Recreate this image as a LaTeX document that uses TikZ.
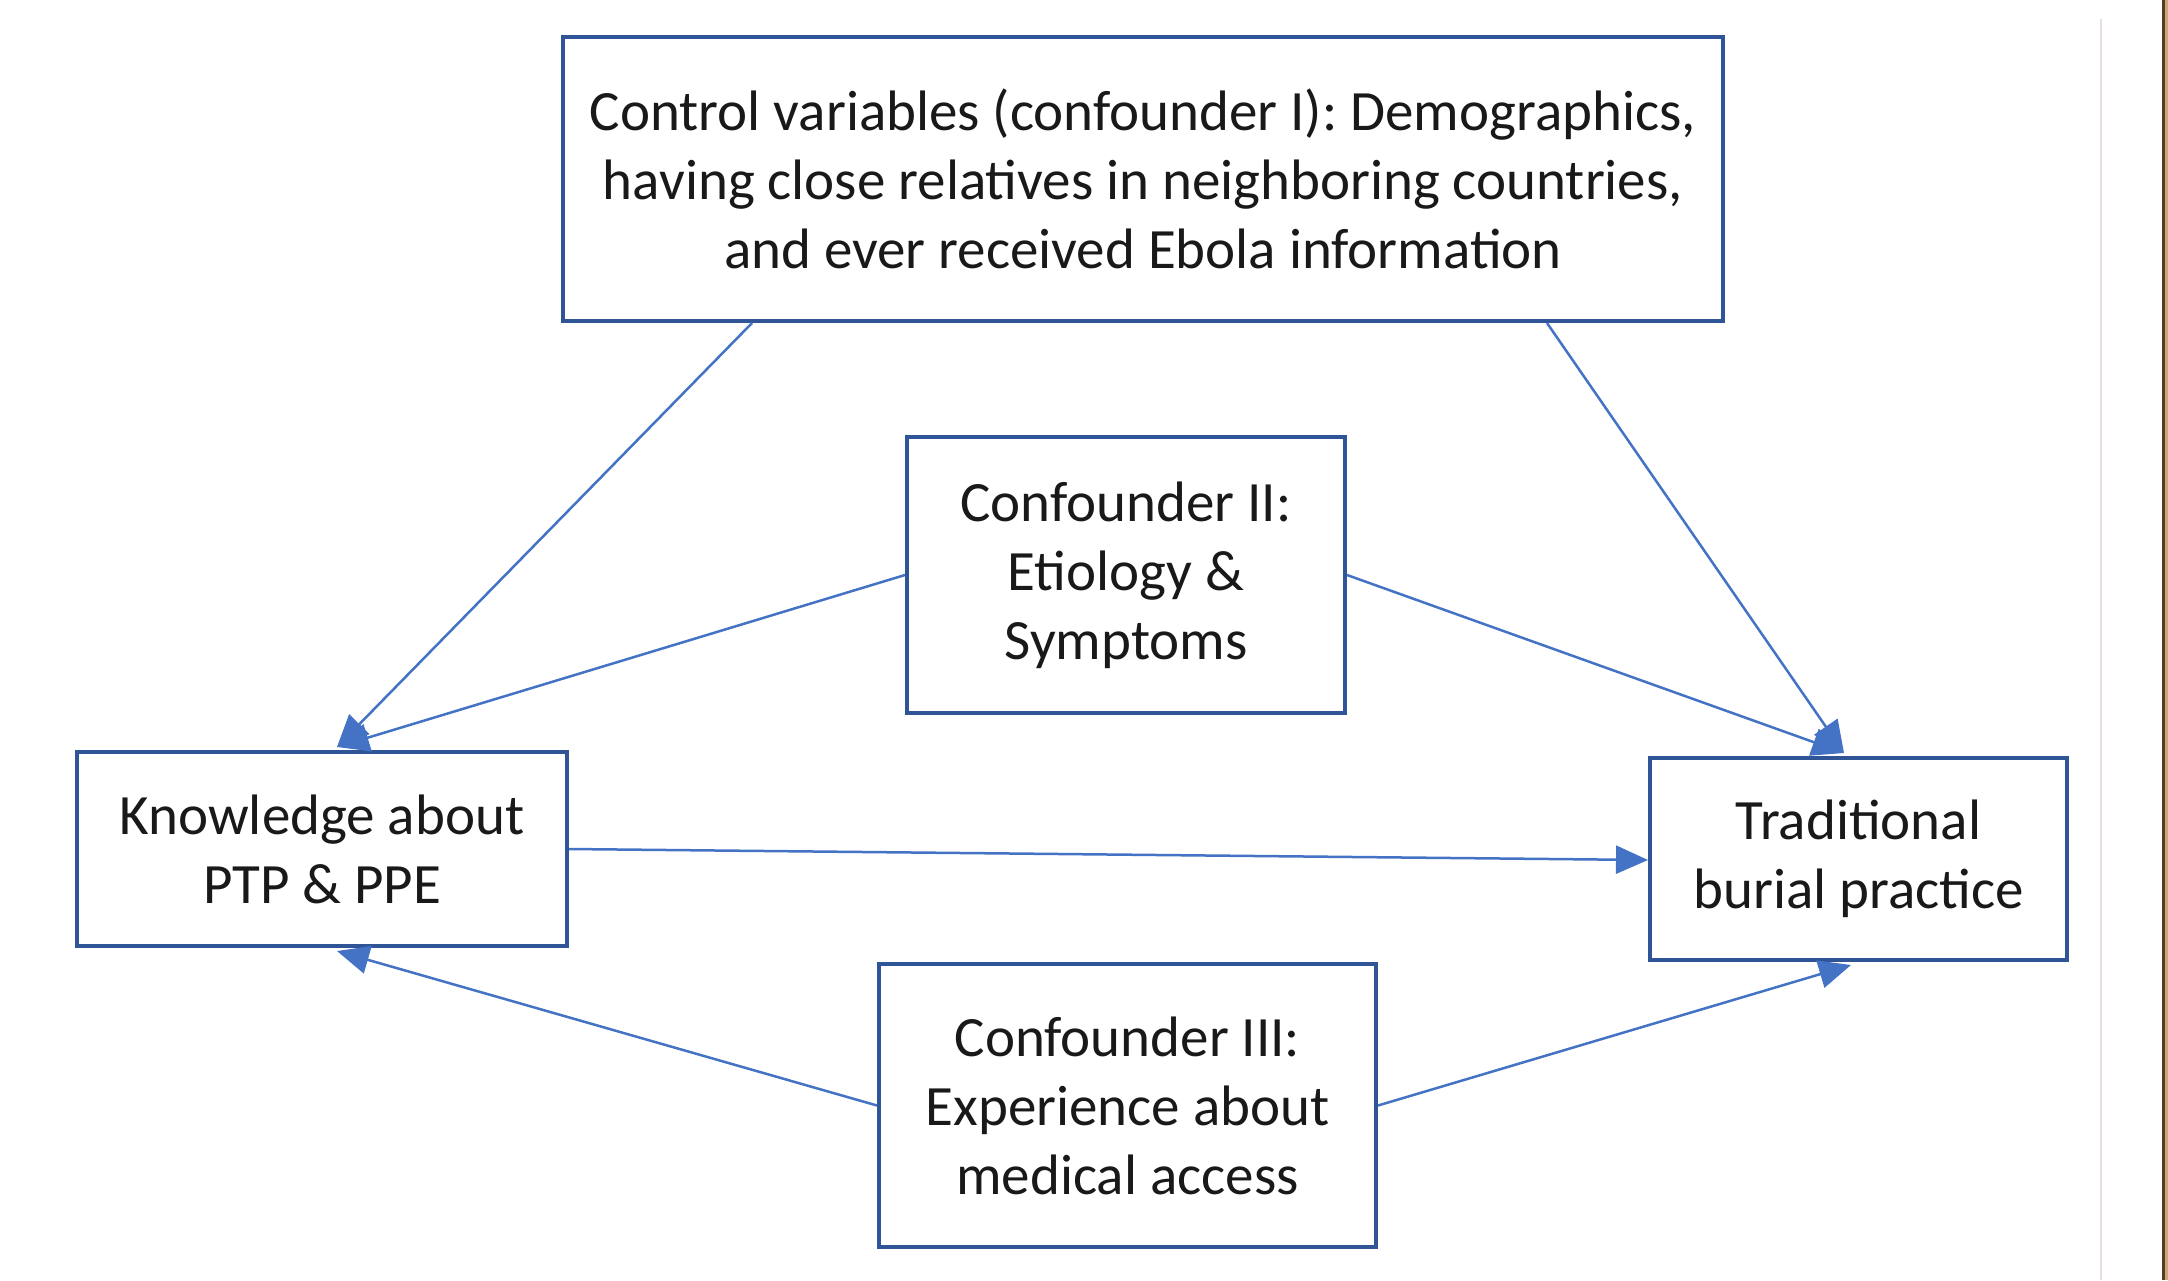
\documentclass[tikz,border=0pt]{standalone}
\usepackage{fontspec}
\setmainfont{Carlito}
\usetikzlibrary{arrows.meta,calc}
\definecolor{boxblue}{HTML}{2F5597}
\definecolor{arrblue}{HTML}{4472C4}
\begin{document}
\begin{tikzpicture}[x=1pt,y=-1pt,
  box/.style={draw=boxblue,line width=4pt,fill=white,align=center,inner sep=0pt,
    font=\fontsize{57}{69}\selectfont,text=black!90},
  arr/.style={draw=arrblue,line width=2.5pt,-{Triangle[length=32pt,width=28pt]}}]
\useasboundingbox (0,0) rectangle (2168,1280);
\fill[white] (0,0) rectangle (2168,1280);
\draw[color={rgb,255:red,232;green,222;blue,218},line width=1.5pt] (2101,19) -- (2101,1280);
\fill[color={rgb,255:red,92;green,58;blue,30}] (2162,0) rectangle (2165,1280);
\fill[color={rgb,255:red,200;green,168;blue,128}] (2165,0) rectangle (2168,1280);
\node[box,minimum width=1160pt,minimum height=284pt] (top) at (1143,179)
  {Control variables (confounder I): Demographics,\\having close relatives in neighboring countries,\\and ever received Ebola information};
\node[box,minimum width=438pt,minimum height=276pt] (c2) at (1126,575)
  {Confounder II:\\Etiology \&\\Symptoms};
\node[box,minimum width=490pt,minimum height=194pt] (know) at (322,849)
  {Knowledge about\\PTP \& PPE};
\node[box,minimum width=417pt,minimum height=202pt] (trad) at (1858.5,859)
  {Traditional\\burial practice};
\node[box,minimum width=497pt,minimum height=283pt] (c3) at (1127.5,1105.5)
  {Confounder III:\\Experience about\\medical access};
\coordinate (ktop) at ($(know.north west)+(262,-3)$);
\coordinate (kbot) at ($(know.south west)+(262,3)$);
\coordinate (ttop) at ($(trad.north west)+(196,-3)$);
\coordinate (tbot) at ($(trad.south west)+(203,3)$);
\coordinate (tops1) at ($(top.south west)+(191,0)$);
\coordinate (tops2) at ($(top.south west)+(986,0)$);
\draw[arr] (tops1) -- (ktop);
\draw[arr] (c2.west) -- (ktop);
\draw[arr] (tops2) -- (ttop);
\draw[arr] (c2.east) -- (ttop);
\draw[arr] (know.east) -- ($(trad.west)+(0,1)$);
\draw[arr] (c3.west) -- (kbot);
\draw[arr] (c3.east) -- (tbot);
\end{tikzpicture}
\end{document}
